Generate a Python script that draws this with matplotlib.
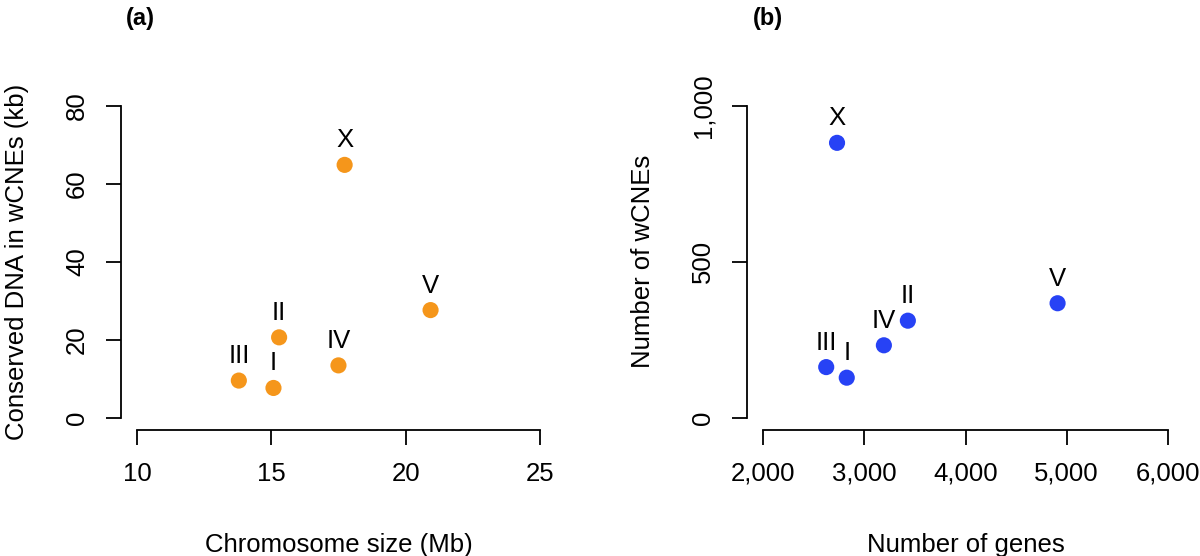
import matplotlib
matplotlib.use("Agg")
import matplotlib.pyplot as plt

plt.rcParams['font.family'] = ['Liberation Sans', 'DejaVu Sans']

# chromosome labels
chrom = ['I', 'II', 'III', 'IV', 'V', 'X']

# (a) chromosome size (Mb) vs conserved DNA in wCNEs (kb)
size_mb = [15.08, 15.29, 13.79, 17.50, 20.93, 17.73]
cons_kb = [7.6, 20.6, 9.5, 13.4, 27.6, 64.9]

# (b) number of genes vs number of wCNEs
n_genes = [2826, 3430, 2623, 3193, 4910, 2730]
n_wcnes = [128, 311, 162, 232, 367, 882]

a_xticks = [10, 15, 20, 25]
a_yticks = [0, 20, 40, 60, 80]
b_xticks = [2000, 3000, 4000, 5000, 6000]
b_yticks = [0, 500, 1000]

FS = 18.5


def r_lim(lo, hi):
    # R style 4% extension
    d = (hi - lo) * 0.04
    return lo - d, hi + d


def style_axes(ax, xt, yt, xlab, ylab, fmt):
    ax.set_xlim(*r_lim(xt[0], xt[-1]))
    ax.set_ylim(*r_lim(yt[0], yt[-1]))
    for s in ['top', 'right']:
        ax.spines[s].set_visible(False)
    ax.spines['left'].set_bounds(yt[0], yt[-1])
    ax.spines['bottom'].set_bounds(xt[0], xt[-1])
    for s in ['left', 'bottom']:
        ax.spines[s].set_linewidth(1.3)
    ax.set_xticks(xt)
    ax.set_yticks(yt)
    ax.set_xticklabels([fmt(v) for v in xt])
    ax.set_yticklabels([fmt(v) for v in yt], rotation=90, va='center')
    ax.tick_params(direction='out', length=11, width=1.3, labelsize=FS)
    ax.tick_params(axis='x', pad=12)
    ax.tick_params(axis='y', pad=12)
    ax.set_xlabel(xlab, fontsize=FS, labelpad=34)
    ax.set_ylabel(ylab, fontsize=FS, labelpad=26)


def label_points(ax, xs, ys):
    for name, x, y in zip(chrom, xs, ys):
        ax.annotate(name, (x, y), xytext=(0, 9), textcoords='offset points',
                    ha='center', va='bottom', fontsize=FS)


fig = plt.figure(figsize=(12, 5.56), dpi=100)

ax1 = fig.add_axes([0.1008, 0.2266, 0.3625, 0.605])
ax1.scatter(size_mb, cons_kb, s=135, color='#F5961B', edgecolors='none', zorder=3)
label_points(ax1, size_mb, cons_kb)
style_axes(ax1, a_xticks, a_yticks, 'Chromosome size (Mb)',
           'Conserved DNA in wCNEs (kb)', lambda v: f'{v:g}')

ax2 = fig.add_axes([0.6225, 0.2266, 0.3642, 0.605])
ax2.scatter(n_genes, n_wcnes, s=135, color='#2742F5', edgecolors='none', zorder=3)
label_points(ax2, n_genes, n_wcnes)
style_axes(ax2, b_xticks, b_yticks, 'Number of genes',
           'Number of wCNEs', lambda v: f'{v:,}')

fig.text(140 / 1200, 1 - 18 / 556, '(a)', fontsize=17, fontweight='bold',
         ha='center', va='center')
fig.text(768 / 1200, 1 - 18 / 556, '(b)', fontsize=17, fontweight='bold',
         ha='center', va='center')

fig.savefig('out.png', dpi=100)
